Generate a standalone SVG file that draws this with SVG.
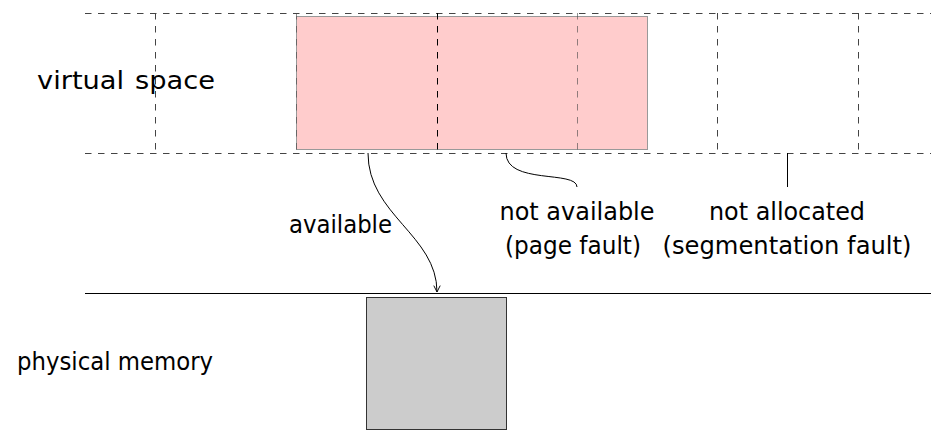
<svg xmlns="http://www.w3.org/2000/svg" width="931" height="432" viewBox="0 0 931 432">
  <style>
    .grid { stroke: #444; stroke-width: 1; stroke-dasharray: 6.5 6.5; fill: none; }
    .solid { stroke: #000; stroke-width: 1; fill: none; }
    .lbl { font-family: "DejaVu Sans", "Open Sans", sans-serif; font-size: 24px; fill: #000; }
    .mid { text-anchor: middle; }
  </style>
  <defs>
    <marker id="arrow" viewBox="0 0 10 10" refX="9" refY="5" markerWidth="8" markerHeight="8" orient="auto" markerUnits="userSpaceOnUse">
      <path d="M1,1 L9,5 L1,9" fill="none" stroke="#000" stroke-width="1.2"/>
    </marker>
  </defs>

  <!-- virtual address space: page grid -->
  <g id="virtual-space">
    <line class="grid" x1="85" y1="13.5" x2="931" y2="13.5"/>
    <line class="grid" x1="85" y1="153.5" x2="931" y2="153.5"/>
    <line class="grid" x1="155.5" y1="13" x2="155.5" y2="153"/>
    <line class="grid" x1="717.5" y1="13" x2="717.5" y2="153"/>
    <line class="grid" x1="858.5" y1="13" x2="858.5" y2="153"/>
    <text class="lbl" x="37" y="89" word-spacing="2" textLength="178" lengthAdjust="spacingAndGlyphs">virtual space</text>
  </g>

  <!-- allocated region -->
  <g id="allocated">
    <rect x="296.5" y="16.5" width="351" height="133" fill="#ffcccc" stroke="#999" stroke-width="1"/>
    <line class="grid" x1="296.5" y1="13" x2="296.5" y2="153" stroke-opacity="0.6"/>
    <line class="grid" x1="437.5" y1="13" x2="437.5" y2="153" style="stroke:#000"/>
    <line class="grid" x1="577.5" y1="13" x2="577.5" y2="153" stroke-opacity="0.6"/>
  </g>

  <!-- physical memory -->
  <g id="physical-memory">
    <line class="solid" x1="85" y1="293.5" x2="931" y2="293.5"/>
    <rect x="366.5" y="297.5" width="140" height="132" fill="#cccccc" stroke="#333" stroke-width="1"/>
    <text class="lbl" x="17" y="370" textLength="196" lengthAdjust="spacingAndGlyphs">physical memory</text>
  </g>

  <!-- connectors -->
  <g id="connectors">
    <path class="solid" d="M368,153 C368,215 437,235 437,292" marker-end="url(#arrow)"/>
    <path class="solid" d="M506,153 C506,185 577,170 577,187"/>
    <line class="solid" x1="787.5" y1="153" x2="787.5" y2="187"/>
  </g>

  <g id="label-available">
    <text class="lbl" x="289" y="233" textLength="103" lengthAdjust="spacingAndGlyphs">available</text>
  </g>
  <g id="label-not-available">
    <text class="lbl mid" x="577" y="220" textLength="155" lengthAdjust="spacingAndGlyphs">not available</text>
    <text class="lbl mid" x="573" y="254" textLength="136" lengthAdjust="spacingAndGlyphs">(page fault)</text>
  </g>
  <g id="label-not-allocated">
    <text class="lbl mid" x="787" y="220" textLength="156" lengthAdjust="spacingAndGlyphs">not allocated</text>
    <text class="lbl mid" x="787" y="254" textLength="249" lengthAdjust="spacingAndGlyphs">(segmentation fault)</text>
  </g>
</svg>
